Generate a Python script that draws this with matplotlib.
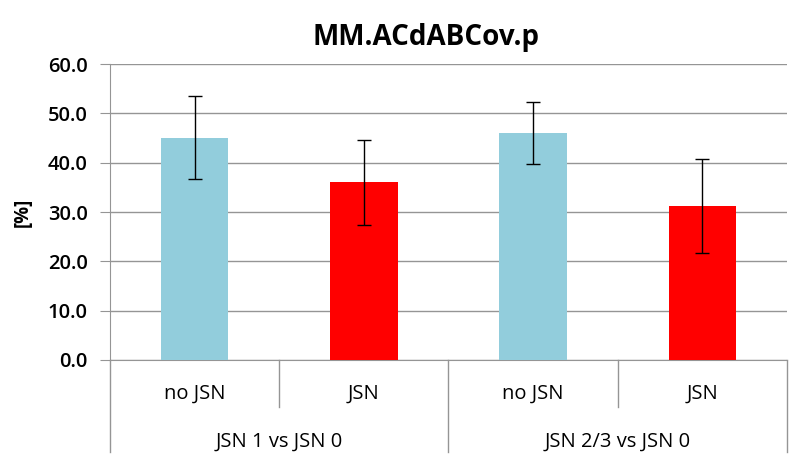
import matplotlib.pyplot as plt
import numpy as np

# data
groups = ["JSN 1 vs JSN 0", "JSN 2/3 vs JSN 0"]
subgroups = ["no JSN", "JSN", "no JSN", "JSN"]
values = [45.1, 36.0, 46.1, 31.2]
errors = [8.4, 8.7, 6.3, 9.5]
colors = ["#92CDDC", "#FF0000", "#92CDDC", "#FF0000"]

plt.rcParams['font.family'] = ['Open Sans', 'DejaVu Sans']

fig = plt.figure(figsize=(8, 4.72), dpi=100)
ax = fig.add_axes([0.1375, 0.2373, 0.84625, 0.627])

x = np.arange(len(values))
ax.bar(x, values, width=0.4, color=colors, zorder=3)
ax.errorbar(x, values, yerr=errors, fmt='none', ecolor='black',
            elinewidth=1, capsize=5, capthick=1, zorder=4)

ax.set_xlim(-0.5, len(values) - 0.5)
ax.set_ylim(0, 60)
ax.set_yticks(np.arange(0, 61, 10))
ax.set_yticklabels([f"{v:.1f}" for v in np.arange(0, 61, 10)],
                   fontsize=14.5, fontweight='semibold')
ax.yaxis.grid(True, color='#959595', linewidth=1, zorder=0)
ax.tick_params(axis='y', length=7, color='#959595', pad=9)
ax.set_xticks([])

for s in ['top', 'right']:
    ax.spines[s].set_visible(False)
ax.spines['left'].set_color('#959595')
ax.spines['bottom'].set_color('#959595')

ax.set_ylabel("[%]", fontsize=13.5, fontweight='bold', labelpad=11)
fig.text(426 / 800, 1 - 38 / 472, "MM.ACdABCov.p", ha='center', va='center',
         fontsize=20, fontweight='bold')

# hierarchical category axis
trans = ax.get_xaxis_transform()
line_kw = dict(color='#959595', linewidth=1, clip_on=False, transform=trans)
for i, lab in enumerate(subgroups):
    ax.text(i, -0.115, lab, ha='center', va='center', fontsize=14.5,
            transform=trans)
for b in [0.5, 2.5]:
    ax.plot([b, b], [0, -0.16], **line_kw)
for b in [-0.5, 1.5, 3.5]:
    ax.plot([b, b], [0, -0.31], **line_kw)
for g, lab in enumerate(groups):
    ax.text(2 * g + 0.5, -0.275, lab, ha='center', va='center', fontsize=14.5,
            transform=trans)

fig.savefig("out.png", dpi=100)
